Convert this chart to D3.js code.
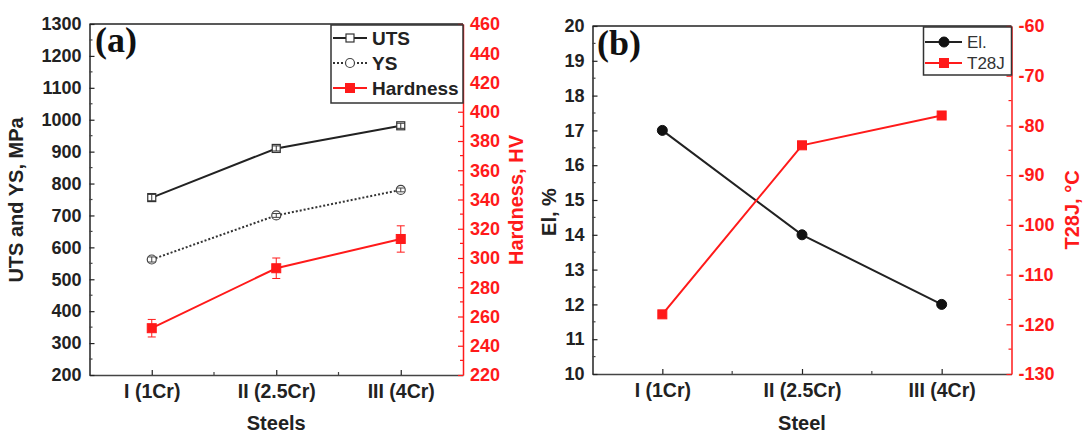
<!DOCTYPE html>
<html>
<head>
<meta charset="utf-8">
<script src="https://cdn.jsdelivr.net/npm/d3@7"></script>
<style>
html,body{margin:0;padding:0;background:#fff;}
svg{display:block;}
</style>
</head>
<body>
<svg id="chart" width="1089" height="435" font-family="'Liberation Sans',Arial,sans-serif"></svg>
<script>
// ---------- data ----------
const categories = ["I (1Cr)", "II (2.5Cr)", "III (4Cr)"];
const utsValues = [756, 910, 981];
const utsErr = [10, 8, 8];
const ysValues = [562, 700, 780];
const ysErr = [8, 6, 6];
const hardnessValues = [252, 293, 313];
const hardnessErr = [6, 7, 9];
const elValues = [17, 14, 12];
const t28jValues = [-118, -84, -78];

const ticksA_left = [200, 300, 400, 500, 600, 700, 800, 900, 1000, 1100, 1200, 1300];
const ticksA_right = [220, 240, 260, 280, 300, 320, 340, 360, 380, 400, 420, 440, 460];
const ticksB_left = [10, 11, 12, 13, 14, 15, 16, 17, 18, 19, 20];
const ticksB_right = [-130, -120, -110, -100, -90, -80, -70, -60];

const RED = "#ff1a1a";
const svg = d3.select("#chart");
svg.append("rect").attr("width", 1089).attr("height", 435).attr("fill", "#fff");

const fmt = d => String(d); // plain hyphen for negatives

function styleAxis(g, color, fontSize) {
  g.attr("font-family", null);
  g.select(".domain").attr("stroke", color).attr("stroke-width", 1.5);
  g.selectAll(".tick line").attr("stroke", color).attr("stroke-width", 1.2);
  g.selectAll(".tick text").attr("fill", color).attr("font-size", fontSize)
    .attr("font-weight", "bold");
}

function minorTicks(g, values, scale, orient, color) {
  values.forEach(v => {
    const p = scale(v);
    let l;
    if (orient === "left") l = g.append("line").attr("x1", 0).attr("x2", 3).attr("y1", p).attr("y2", p);
    if (orient === "right") l = g.append("line").attr("x1", 0).attr("x2", -3).attr("y1", p).attr("y2", p);
    if (orient === "bottom") l = g.append("line").attr("y1", 0).attr("y2", -3).attr("x1", p).attr("x2", p);
    l.attr("stroke", color).attr("stroke-width", 1.2);
  });
}

function panel(cfg) {
  const x = d3.scaleLinear().domain([0.5, 3.5]).range([cfg.x0, cfg.x1]);
  const yL = d3.scaleLinear().domain(cfg.leftDomain).range([cfg.y1, cfg.y0]);
  const yR = d3.scaleLinear().domain(cfg.rightDomain).range([cfg.y1, cfg.y0]);
  const g = svg.append("g");

  // top frame
  g.append("line").attr("x1", cfg.x0).attr("x2", cfg.x1).attr("y1", cfg.y0).attr("y2", cfg.y0)
    .attr("stroke", "#222").attr("stroke-width", 1.5);

  // bottom axis
  const gx = g.append("g").attr("transform", `translate(0,${cfg.y1})`)
    .call(d3.axisBottom(x).tickValues([1, 2, 3]).tickFormat((d, i) => categories[i])
      .tickSizeInner(-5).tickSizeOuter(0).tickPadding(9));
  styleAxis(gx, "#222", 19.5);
  gx.select(".domain").attr("stroke", "#444");
  minorTicks(gx.append("g"), [1.5, 2.5], x, "bottom", "#444");

  // left axis
  const gl = g.append("g").attr("transform", `translate(${cfg.x0},0)`)
    .call(d3.axisLeft(yL).tickValues(cfg.leftTicks).tickFormat(fmt)
      .tickSizeInner(-5).tickSizeOuter(0).tickPadding(8));
  styleAxis(gl, "#222", 18);
  minorTicks(gl.append("g"), cfg.leftTicks.slice(0, -1).map(v => v + cfg.leftStep / 2), yL, "left", "#444");

  // right axis
  const gr = g.append("g").attr("transform", `translate(${cfg.x1},0)`)
    .call(d3.axisRight(yR).tickValues(cfg.rightTicks).tickFormat(fmt)
      .tickSizeInner(-5).tickSizeOuter(0).tickPadding(7));
  styleAxis(gr, RED, 18);
  minorTicks(gr.append("g"), cfg.rightTicks.slice(0, -1).map(v => v + cfg.rightStep / 2), yR, "right", RED);

  // titles
  g.append("text").attr("x", (cfg.x0 + cfg.x1) / 2).attr("y", 430).attr("text-anchor", "middle")
    .attr("font-size", 20).attr("font-weight", "bold").attr("fill", "#222").text(cfg.xTitle);
  g.append("text").attr("transform", `translate(${cfg.lTitleX},${cfg.lTitleY}) rotate(-90)`)
    .attr("text-anchor", "middle").attr("font-size", 20).attr("font-weight", "bold")
    .attr("fill", "#222").text(cfg.lTitle);
  g.append("text").attr("transform", `translate(${cfg.rTitleX},${cfg.rTitleY}) rotate(-90)`)
    .attr("text-anchor", "middle").attr("font-size", 20).attr("font-weight", "bold")
    .attr("fill", RED).text(cfg.rTitle);

  // panel label
  g.append("text").attr("x", cfg.labelX).attr("y", cfg.labelY)
    .attr("font-family", "'Liberation Serif','Times New Roman',serif")
    .attr("font-size", 36).attr("font-weight", "bold").attr("fill", "#111").text(cfg.label);

  return { g, x, yL, yR };
}

function errBars(g, x, y, vals, errs, color) {
  vals.forEach((v, i) => {
    const cx = x(i + 1);
    g.append("line").attr("x1", cx).attr("x2", cx).attr("y1", y(v - errs[i])).attr("y2", y(v + errs[i]))
      .attr("stroke", color).attr("stroke-width", 1);
    [v - errs[i], v + errs[i]].forEach(e => g.append("line")
      .attr("x1", cx - 4).attr("x2", cx + 4).attr("y1", y(e)).attr("y2", y(e))
      .attr("stroke", color).attr("stroke-width", 1));
  });
}

function series(g, x, y, vals, opt) {
  const line = d3.line().x((d, i) => x(i + 1)).y(d => y(d));
  g.append("path").datum(vals).attr("d", line).attr("fill", "none")
    .attr("stroke", opt.color).attr("stroke-width", opt.width)
    .attr("stroke-dasharray", opt.dash || null);
  vals.forEach((v, i) => drawMarker(g, x(i + 1), y(v), opt));
}

function drawMarker(g, cx, cy, opt) {
  const s = opt.size;
  if (opt.shape === "square") {
    g.append("rect").attr("x", cx - s / 2).attr("y", cy - s / 2).attr("width", s).attr("height", s)
      .attr("fill", opt.fill).attr("stroke", opt.mColor).attr("stroke-width", opt.mStroke);
  } else {
    g.append("circle").attr("cx", cx).attr("cy", cy).attr("r", s / 2)
      .attr("fill", opt.fill).attr("stroke", opt.mColor).attr("stroke-width", opt.mStroke);
  }
}

// ---------- panel (a) ----------
const A = panel({
  x0: 89.5, x1: 463, y0: 24, y1: 375,
  leftDomain: [200, 1300], rightDomain: [220, 460],
  leftTicks: ticksA_left, rightTicks: ticksA_right, leftStep: 100, rightStep: 20,
  xTitle: "Steels", lTitle: "UTS and YS, MPa", rTitle: "Hardness, HV",
  lTitleX: 23, lTitleY: 200, rTitleX: 523, rTitleY: 200,
  label: "(a)", labelX: 95, labelY: 52
});
const utsOpt = { color: "#222", width: 2, shape: "square", size: 8, fill: "#fff", mColor: "#333", mStroke: 1.2 };
const ysOpt = { color: "#333", width: 2, dash: "2,2", shape: "circle", size: 9, fill: "#fff", mColor: "#444", mStroke: 1.2 };
const hOpt = { color: RED, width: 2, shape: "square", size: 9, fill: RED, mColor: RED, mStroke: 1 };
series(A.g, A.x, A.yL, utsValues, utsOpt);
errBars(A.g, A.x, A.yL, utsValues, utsErr, "#333");
series(A.g, A.x, A.yL, ysValues, ysOpt);
errBars(A.g, A.x, A.yL, ysValues, ysErr, "#444");
errBars(A.g, A.x, A.yR, hardnessValues, hardnessErr, RED);
series(A.g, A.x, A.yR, hardnessValues, hOpt);

// legend (a)
(function () {
  const lg = svg.append("g");
  lg.append("rect").attr("x", 331).attr("y", 25).attr("width", 463 - 331).attr("height", 78)
    .attr("fill", "#fff").attr("stroke", "#333").attr("stroke-width", 1.5);
  const items = [["UTS", utsOpt, 38], ["YS", ysOpt, 63], ["Hardness", hOpt, 88]];
  items.forEach(([name, o, yy]) => {
    lg.append("line").attr("x1", 333).attr("x2", 367).attr("y1", yy).attr("y2", yy)
      .attr("stroke", o.color).attr("stroke-width", o.width).attr("stroke-dasharray", o.dash || null);
    drawMarker(lg, 350, yy, o);
    lg.append("text").attr("x", 372).attr("y", yy).attr("dy", "0.36em").attr("font-size", 19)
      .attr("font-weight", "bold").attr("fill", "#222").text(name);
  });
})();

// ---------- panel (b) ----------
const B = panel({
  x0: 592.5, x1: 1011.5, y0: 26, y1: 374,
  leftDomain: [10, 20], rightDomain: [-130, -60],
  leftTicks: ticksB_left, rightTicks: ticksB_right, leftStep: 1, rightStep: 10,
  xTitle: "Steel", lTitle: "El, %", rTitle: "T28J, °C",
  lTitleX: 556, lTitleY: 212, rTitleX: 1079, rTitleY: 210,
  label: "(b)", labelX: 597, labelY: 55
});
const elOpt = { color: "#222", width: 2, shape: "circle", size: 10, fill: "#111", mColor: "#111", mStroke: 1 };
const tOpt = { color: RED, width: 2, shape: "square", size: 9, fill: RED, mColor: RED, mStroke: 1 };
series(B.g, B.x, B.yL, elValues, elOpt);
series(B.g, B.x, B.yR, t28jValues, tOpt);

// legend (b)
(function () {
  const lg = svg.append("g");
  lg.append("rect").attr("x", 923.5).attr("y", 27).attr("width", 1011.5 - 923.5).attr("height", 48)
    .attr("fill", "#fff").attr("stroke", "#333").attr("stroke-width", 1.5);
  const items = [["El.", elOpt, 42], ["T28J", tOpt, 63]];
  items.forEach(([name, o, yy]) => {
    lg.append("line").attr("x1", 925).attr("x2", 962).attr("y1", yy).attr("y2", yy)
      .attr("stroke", o.color).attr("stroke-width", o.width);
    drawMarker(lg, 944, yy, o);
    lg.append("text").attr("x", 967).attr("y", yy).attr("dy", "0.36em").attr("font-size", 17)
      .attr("fill", "#333").text(name);
  });
})();
</script>
</body>
</html>
